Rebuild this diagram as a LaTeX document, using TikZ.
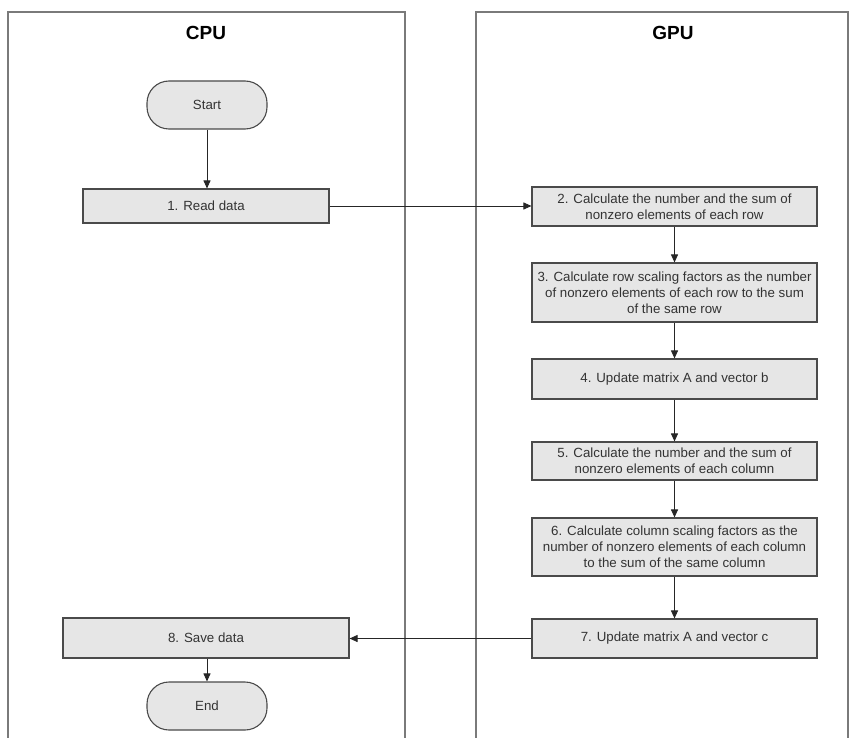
\documentclass[tikz,border=0pt]{standalone}
\usepackage{fontspec}
\setmainfont{Liberation Sans}
\usetikzlibrary{arrows.meta}
\definecolor{boxfill}{HTML}{E6E6E6}
\definecolor{boxline}{HTML}{4A4A4A}
\definecolor{laneline}{HTML}{7A7A7A}
\definecolor{txt}{HTML}{333333}
\tikzset{
  lane/.style={draw=laneline, line width=1.3pt},
  header/.style={font=\fontsize{19}{22}\selectfont\bfseries, text=black},
  procbox/.style={draw=boxline, fill=boxfill, line width=1.1pt, align=center,
    font=\fontsize{13.3}{16}\selectfont, text=txt, inner sep=0pt},
  termbox/.style={draw=boxline, fill=boxfill, line width=1.1pt, rounded corners=22pt,
    minimum width=120pt, minimum height=48pt, font=\fontsize{13.3}{16}\selectfont, text=txt, inner sep=0pt},
  flow/.style={draw=black!85, line width=0.9pt, -{Triangle[length=8pt,width=7pt]}}
}
\begin{document}
\begin{tikzpicture}[x=1pt,y=-1pt]
\useasboundingbox (0,0) rectangle (853,738);
\fill[white] (0,0) rectangle (853,738);
% lanes
\draw[lane] (8,740) -- (8,12) -- (405,12) -- (405,740);
\draw[lane] (476,740) -- (476,12) -- (848,12) -- (848,740);
\node[header] (cpu) at (206,33) {CPU};
\node[header] (gpu) at (673,33) {GPU};
% nodes
\node[termbox] (start) at (207,105) {Start};
\node[procbox, minimum width=246pt, minimum height=34pt] (n1) at (206,206) {1. Read data};
\node[procbox, minimum width=285pt, minimum height=39pt] (n2) at (674.5,206.5)
  {2. Calculate the number and the sum of\\nonzero elements of each row};
\node[procbox, minimum width=285pt, minimum height=59pt] (n3) at (674.5,292.5)
  {3. Calculate row scaling factors as the number\\of nonzero elements of each row to the sum\\of the same row};
\node[procbox, minimum width=285pt, minimum height=40pt] (n4) at (674.5,379)
  {4. Update matrix A and vector b};
\node[procbox, minimum width=285pt, minimum height=38pt] (n5) at (674.5,461)
  {5. Calculate the number and the sum of\\nonzero elements of each column};
\node[procbox, minimum width=285pt, minimum height=58pt] (n6) at (674.5,547)
  {6. Calculate column scaling factors as the\\number of nonzero elements of each column\\to the sum of the same column};
\node[procbox, minimum width=285pt, minimum height=39pt] (n7) at (674.5,638.5)
  {7. Update matrix A and vector c};
\node[procbox, minimum width=286pt, minimum height=40pt] (n8) at (206,638)
  {8. Save data};
\node[termbox] (end) at (207,706) {End};
% connectors
\draw[flow] (start.south) -- (start.south |- n1.north);
\draw[flow] (n1.east) -- (n1.east -| n2.west);
\draw[flow] (n2.south) -- (n3.north);
\draw[flow] (n3.south) -- (n4.north);
\draw[flow] (n4.south) -- (n5.north);
\draw[flow] (n5.south) -- (n6.north);
\draw[flow] (n6.south) -- (n7.north);
\draw[flow] (n7.west) -- (n7.west -| n8.east);
\draw[flow] (n8.south -| end.north) -- (end.north);
\end{tikzpicture}
\end{document}
